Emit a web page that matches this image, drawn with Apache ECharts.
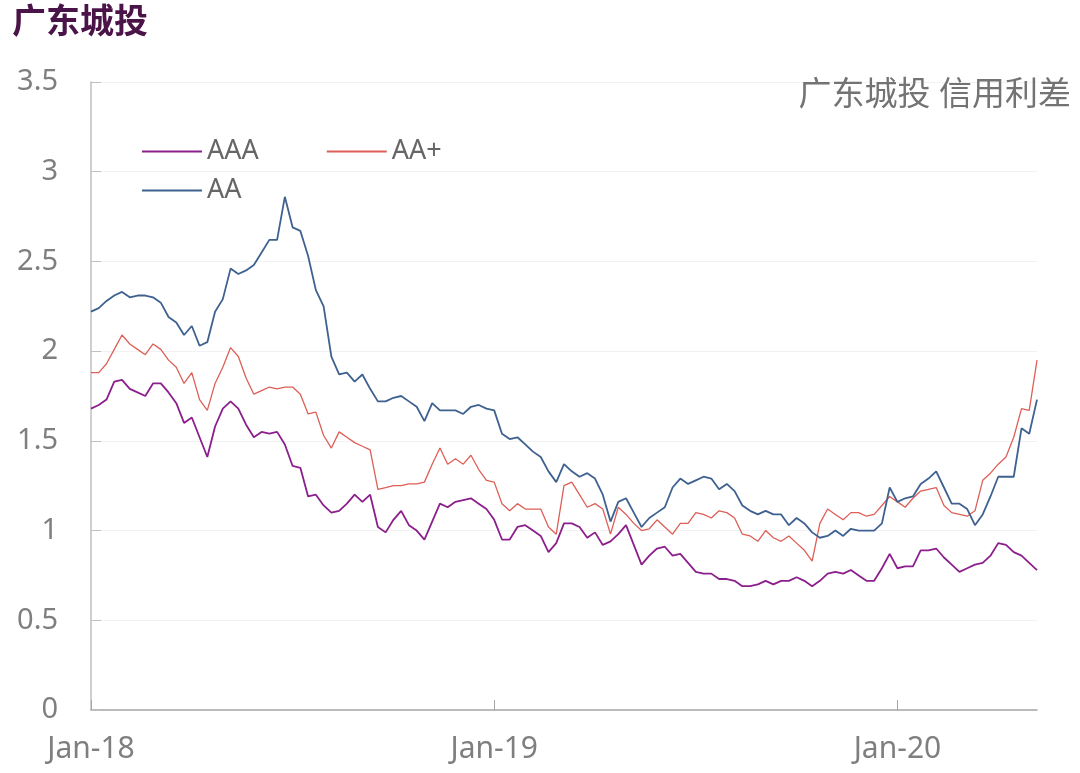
<!DOCTYPE html>
<html>
<head>
<meta charset="utf-8">
<script src="https://cdn.jsdelivr.net/npm/echarts@6/dist/echarts.min.js"></script>
<style>
    html, body { margin: 0; padding: 0; background: #fff; }
    #chart { width: 1080px; height: 773px; }
</style>
</head>
<body>
<div id="chart"></div>
<script>
// weekly observations, first one in the first week of Jan 2018
var startDate = '2018-01-05';
var weekCount = 123;

var aaa = [
    1.68, 1.70, 1.73, 1.83, 1.84, 1.79, 1.77, 1.75, 1.82, 1.82,
    1.77, 1.71, 1.60, 1.63, 1.52, 1.41, 1.58, 1.68, 1.72, 1.68,
    1.59, 1.52, 1.55, 1.54, 1.55, 1.48, 1.36, 1.35, 1.19, 1.20,
    1.14, 1.10, 1.11, 1.15, 1.20, 1.16, 1.20, 1.02, 0.99, 1.06,
    1.11, 1.03, 1.00, 0.95, 1.05, 1.15, 1.13, 1.16, 1.17, 1.18,
    1.15, 1.12, 1.06, 0.95, 0.95, 1.02, 1.03, 1.00, 0.97, 0.88,
    0.93, 1.04, 1.04, 1.02, 0.96, 0.99, 0.92, 0.94, 0.98, 1.03,
    0.92, 0.81, 0.86, 0.90, 0.91, 0.86, 0.87, 0.82, 0.77, 0.76,
    0.76, 0.73, 0.73, 0.72, 0.69, 0.69, 0.70, 0.72, 0.70, 0.72,
    0.72, 0.74, 0.72, 0.69, 0.72, 0.76, 0.77, 0.76, 0.78, 0.75,
    0.72, 0.72, 0.79, 0.87, 0.79, 0.80, 0.80, 0.89, 0.89, 0.90,
    0.85, 0.81, 0.77, 0.79, 0.81, 0.82, 0.86, 0.93, 0.92, 0.88,
    0.86, 0.82, 0.78
];
var aaPlus = [
    1.88, 1.88, 1.93, 2.01, 2.09, 2.04, 2.01, 1.98, 2.04, 2.01,
    1.95, 1.91, 1.82, 1.88, 1.73, 1.67, 1.82, 1.91, 2.02, 1.97,
    1.85, 1.76, 1.78, 1.80, 1.79, 1.80, 1.80, 1.76, 1.65, 1.66,
    1.53, 1.46, 1.55, 1.52, 1.49, 1.47, 1.45, 1.23, 1.24, 1.25,
    1.25, 1.26, 1.26, 1.27, 1.37, 1.46, 1.37, 1.40, 1.37, 1.42,
    1.34, 1.28, 1.27, 1.15, 1.11, 1.15, 1.12, 1.12, 1.12, 1.02,
    0.98, 1.25, 1.27, 1.20, 1.13, 1.15, 1.12, 0.98, 1.13, 1.09,
    1.04, 1.00, 1.01, 1.06, 1.02, 0.98, 1.04, 1.04, 1.10, 1.09,
    1.07, 1.11, 1.10, 1.07, 0.98, 0.97, 0.94, 1.00, 0.96, 0.94,
    0.97, 0.93, 0.89, 0.83, 1.04, 1.12, 1.09, 1.06, 1.10, 1.10,
    1.08, 1.09, 1.14, 1.19, 1.16, 1.13, 1.18, 1.22, 1.23, 1.24,
    1.14, 1.10, 1.09, 1.08, 1.11, 1.28, 1.32, 1.37, 1.41, 1.52,
    1.68, 1.67, 1.95
];
var aa = [
    2.22, 2.24, 2.28, 2.31, 2.33, 2.30, 2.31, 2.31, 2.30, 2.27,
    2.19, 2.16, 2.09, 2.14, 2.03, 2.05, 2.22, 2.29, 2.46, 2.43,
    2.45, 2.48, 2.55, 2.62, 2.62, 2.86, 2.69, 2.67, 2.53, 2.34,
    2.25, 1.97, 1.87, 1.88, 1.83, 1.87, 1.79, 1.72, 1.72, 1.74,
    1.75, 1.72, 1.69, 1.61, 1.71, 1.67, 1.67, 1.67, 1.65, 1.69,
    1.70, 1.68, 1.67, 1.54, 1.51, 1.52, 1.48, 1.44, 1.41, 1.33,
    1.27, 1.37, 1.33, 1.30, 1.32, 1.29, 1.20, 1.05, 1.16, 1.18,
    1.10, 1.02, 1.07, 1.10, 1.13, 1.24, 1.29, 1.26, 1.28, 1.30,
    1.29, 1.23, 1.26, 1.22, 1.14, 1.11, 1.09, 1.11, 1.09, 1.09,
    1.03, 1.07, 1.04, 0.99, 0.96, 0.97, 1.00, 0.97, 1.01, 1.00,
    1.00, 1.00, 1.04, 1.24, 1.16, 1.18, 1.19, 1.26, 1.29, 1.33,
    1.24, 1.15, 1.15, 1.12, 1.03, 1.09, 1.19, 1.30, 1.30, 1.30,
    1.57, 1.54, 1.73
];
var yearTicks = [0, 52, 104];

var font = '"Noto Sans", "Noto Sans CJK SC", sans-serif';

function buildDates(start, n) {
    var out = [];
    var d = new Date(start + 'T00:00:00Z');
    for (var i = 0; i < n; i++) {
        out.push(d.toISOString().slice(0, 10));
        d = new Date(d.getTime() + 7 * 86400000);
    }
    return out;
}

var months = ['Jan', 'Feb', 'Mar', 'Apr', 'May', 'Jun', 'Jul', 'Aug', 'Sep', 'Oct', 'Nov', 'Dec'];
function monthLabel(s) {
    return months[parseInt(s.slice(5, 7), 10) - 1] + '-' + s.slice(2, 4);
}

var dates = buildDates(startDate, weekCount);

var myChart = echarts.init(document.getElementById('chart'));

var legendText = {color: '#666666', fontSize: 27, fontFamily: font};

option = {
    animation: false,
    backgroundColor: '#ffffff',
    title: [{
        text: '广东城投',
        left: 7,
        top: 1,
        textStyle: {color: '#4b1449', fontSize: 34, fontWeight: 'bold', fontFamily: font}
    }, {
        text: '广东城投 信用利差',
        right: 4,
        top: 74,
        textStyle: {color: '#737373', fontSize: 33, fontWeight: 'normal', fontFamily: font}
    }],
    legend: [{
        data: ['AAA', 'AA+'],
        left: 137,
        top: 133,
        icon: 'rect',
        itemWidth: 60,
        itemHeight: 2,
        itemGap: 68,
        textStyle: legendText
    }, {
        data: ['AA'],
        left: 137,
        top: 172,
        icon: 'rect',
        itemWidth: 60,
        itemHeight: 2,
        textStyle: legendText
    }],
    grid: {
        left: 91,
        right: 43,
        top: 82,
        bottom: 63,
        containLabel: false
    },
    xAxis: {
        type: 'category',
        boundaryGap: false,
        data: dates,
        axisLine: {lineStyle: {color: '#a6a6a6', width: 1.5}},
        axisTick: {
            inside: true,
            length: 10,
            lineStyle: {color: '#a6a6a6'},
            interval: function (index) {
                return yearTicks.indexOf(index) >= 0;
            }
        },
        axisLabel: {
            color: '#7f7f7f',
            fontSize: 30,
            fontFamily: font,
            margin: 24,
            interval: function (index) {
                return yearTicks.indexOf(index) >= 0;
            },
            formatter: monthLabel
        },
        splitLine: {show: false}
    },
    yAxis: {
        type: 'value',
        min: 0,
        max: 3.5,
        interval: 0.5,
        axisLine: {show: true, lineStyle: {color: '#bfbfbf', width: 1.5}},
        axisTick: {show: true, inside: true, length: 10, lineStyle: {color: '#bfbfbf'}},
        axisLabel: {color: '#7f7f7f', fontSize: 29, fontFamily: font, margin: 33},
        splitLine: {lineStyle: {color: '#f2f2f2', width: 1}}
    },
    series: [
        {
            name: 'AAA',
            type: 'line',
            data: aaa,
            symbol: 'none',
            itemStyle: {color: '#8b1f8b'},
            lineStyle: {color: '#8b1f8b', width: 1.8}
        },
        {
            name: 'AA+',
            type: 'line',
            data: aaPlus,
            symbol: 'none',
            itemStyle: {color: '#dd5f57'},
            lineStyle: {color: '#dd5f57', width: 1.3}
        },
        {
            name: 'AA',
            type: 'line',
            data: aa,
            symbol: 'none',
            itemStyle: {color: '#3e6190'},
            lineStyle: {color: '#3e6190', width: 1.8}
        }
    ]
};

myChart.setOption(option);
</script>
</body>
</html>
